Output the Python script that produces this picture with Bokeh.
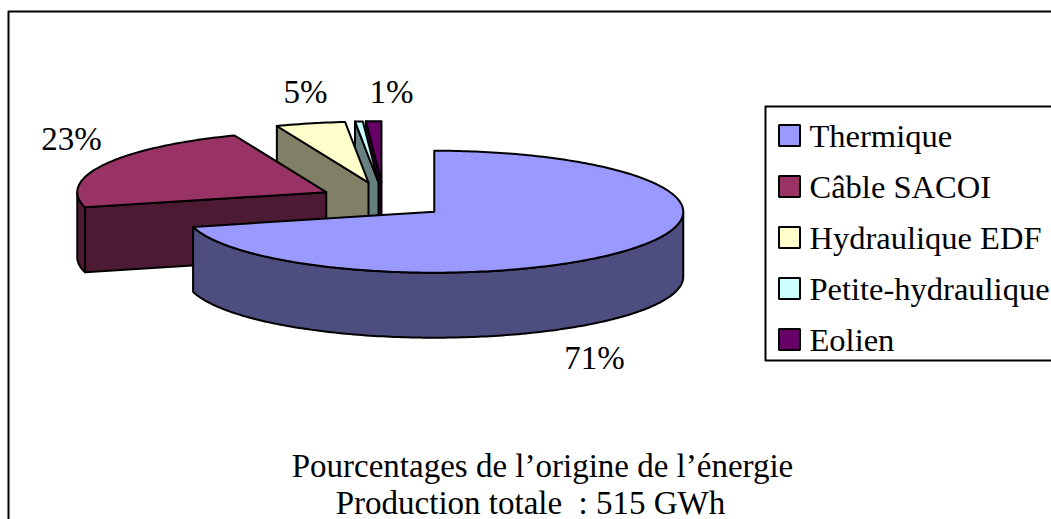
import numpy as np
from bokeh.plotting import figure
from bokeh.models import Range1d
from bokeh.core.properties import value
from bokeh.embed import file_html
from bokeh.resources import INLINE

categories = ["Thermique", "Câble SACOI", "Hydraulique EDF", "Petite-hydraulique", "Eolien"]
shares = [71.0, 23.0, 4.5, 0.5, 1.0]
pct_labels = ["71%", "23%", "5%", "1%"]
title_lines = ["Pourcentages de l’origine de l’énergie", "Production totale\u00a0\u00a0: 515 GWh"]
top_colors = ["#9999FF", "#993366", "#FFFFCC", "#CCFFFF", "#660066"]
side_colors = ["#4D4D80", "#4D1A33", "#808066", "#668080", "#330033"]

# layout (screen pixels)
W, H = 1051, 519
CX, CY, RX, RY, DEPTH = 383.0, 200.0, 249.0, 61.0, 65.0
EX, EY = 0.258, 0.30
FONT = value("Liberation Serif")
FS = value("33px")
LEG_FS = value("32.5px")
pct_x, pct_y = [594, 71, 305, 391], [357, 138, 91, 91]
title_x, title_y = [542, 530], [465, 502]
leg_left, leg_top, leg_bottom = 765, 106, 360
leg_rows = [135, 186, 237, 288, 339]

p = figure(width=W, height=H, x_range=Range1d(0, W), y_range=Range1d(H, 0),
           output_backend="svg", toolbar_location=None, min_border=0,
           x_axis_location=None, y_axis_location=None)
p.grid.visible = False
p.outline_line_color = None
p.background_fill_color = "white"
p.border_fill_color = "white"

OUT = dict(line_color="black", line_width=2, line_join="round")
p.quad(left=8, right=1300, top=11, bottom=800, fill_color="white", **OUT)

edges = np.concatenate([[0], np.cumsum(shares)]) / sum(shares) * 2 * np.pi


def rim(a, ax, ay):
    return ax + RX * np.sin(a), ay - RY * np.cos(a)


def arc(a0, a1, ax, ay):
    t = np.linspace(a0, a1, max(3, int(abs(a1 - a0) * 60)))
    return rim(t, ax, ay)


def apex(i):
    mid = (edges[i] + edges[i + 1]) / 2
    return CX + EX * RX * np.sin(mid), CY - EY * RY * np.cos(mid)


def draw_slice(i):
    a0, a1 = edges[i], edges[i + 1]
    ax, ay = apex(i)
    # outer wall: the part of the rim that faces the viewer
    lo, hi = max(a0, np.pi / 2), min(a1, 3 * np.pi / 2)
    if lo < hi:
        x, y = arc(lo, hi, ax, ay)
        p.patch(np.r_[x, x[::-1]], np.r_[y, y[::-1] + DEPTH], fill_color=side_colors[i], **OUT)
    # cut face on the edge that faces the viewer
    if a0 > np.pi / 2:
        ex, ey = rim(a0, ax, ay)
        p.patch([ax, ex, ex, ax], [ay, ey, ey + DEPTH, ay + DEPTH], fill_color=side_colors[i], **OUT)
    # top face
    x, y = arc(a0, a1, ax, ay)
    p.patch(np.r_[ax, x], np.r_[ay, y], fill_color=top_colors[i], **OUT)


for i in [4, 3, 2, 1, 0]:
    draw_slice(i)

p.text(pct_x, pct_y, text=pct_labels, text_font=FONT, text_font_size=FS,
       text_align="center", text_baseline="middle", text_color="black")
p.text(title_x, title_y, text=title_lines, text_font=FONT, text_font_size=FS,
       text_align="center", text_baseline="middle", text_color="black")

p.quad(left=leg_left, right=1300, top=leg_top, bottom=leg_bottom, fill_color="white", **OUT)
p.rect([789] * 5, leg_rows, width=21, height=21, fill_color=top_colors, line_color="black", line_width=2)
p.text([809] * 5, leg_rows, text=categories, text_font=FONT, text_font_size=LEG_FS,
       text_align="left", text_baseline="middle", text_color="black")

open("out.html", "w").write(file_html(p, INLINE))
